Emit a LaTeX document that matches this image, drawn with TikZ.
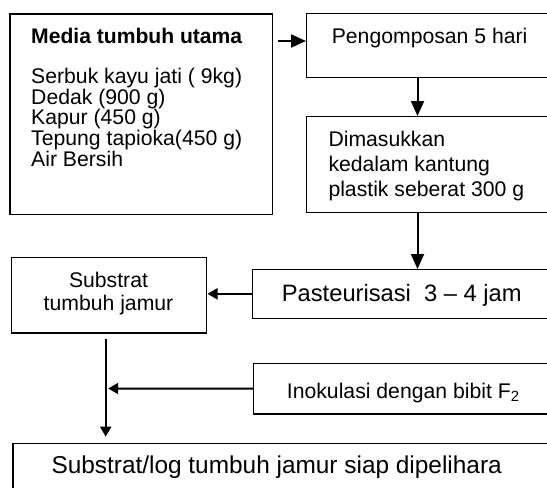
\documentclass[tikz,border=0pt]{standalone}
\usepackage{fontspec}
\setmainfont{Liberation Sans}
\usetikzlibrary{arrows.meta}
\newcommand{\fsz}[1]{\fontsize{#1}{#1}\selectfont}
\newcommand{\stage}[5]{\node[box,anchor=north west,minimum width=#4pt,minimum height=#5pt] (#1) at (#2,#3) {};}

\begin{document}
\begin{tikzpicture}[x=1pt,y=-1pt,
  box/.style={draw,line width=1.2pt,inner sep=0pt},
  txt/.style={inner sep=0pt,anchor=base west,font=\fsz{21.2}},
  flow/.style={line width=2pt,-{Triangle[length=15pt,width=13pt]}},
  feed/.style={line width=2pt,-{Triangle[length=10pt,width=11pt]}}]
\useasboundingbox (0,0) rectangle (547,488);
\clip (0,0) rectangle (547,488);
\stage{media}{9.3}{13.3}{262.4}{200.7}
\stage{kompos}{306}{12.7}{260}{64}
\stage{kantong}{306}{116}{260}{95.7}
\stage{pasteur}{252}{269}{320}{48.5}
\stage{substrat}{11}{256.7}{194.7}{75.6}
\stage{inokul}{253}{362.7}{320}{50.6}
\stage{siap}{12.3}{442.7}{560}{70}
% texts
\node[txt,font=\fsz{21.1}\bfseries] (mediaT) at (31,43.3) {Media tumbuh utama};
\foreach \t [count=\i] in {Serbuk kayu jati ( 9kg),Dedak (900 g),Kapur (450 g),Tepung tapioka(450 g),Air Bersih}
  \node[txt] (bahan\i) at (31,62.5+20.8*\i) {\t};
\node[txt] (komposT) at (331.6,43.3) {Pengomposan 5 hari};
\foreach \t [count=\i] in {Dimasukkan,kedalam kantung,plastik seberat 300 g}
  \node[txt] (kantong\i) at (328.3,121.7+25*\i) {\t};
\node[txt,font=\fsz{23.7}] (pasteurT) at (281.7,301.5) {Pasteurisasi\ \ 3 – 4 jam};
\node[txt,anchor=base] (substrat1) at (108.5,287.3) {Substrat};
\node[txt,anchor=base] (substrat2) at (108.5,310) {tumbuh jamur};
\node[txt] (inokulT) at (286.7,398.3) {Inokulasi dengan bibit F\textsubscript{2}};
\node[txt,font=\fsz{24.4}] (siapT) at (51.3,473.5) {Substrat/log tumbuh jamur siap dipelihara};
% connectors
\coordinate (feedy) at (0,41);
\coordinate (spine) at (417.5,0);
\coordinate (join) at (105.7,388.5);
\draw[flow,shorten <=5pt] (media.east |- feedy) -- (kompos.west |- feedy);
\draw[flow] (kompos.south -| spine) -- (kantong.north -| spine);
\draw[flow] (kantong.south -| spine) -- (pasteur.north -| spine);
\draw[feed,shorten >=0.6pt] (pasteur.west) -- (pasteur.west -| substrat.east);
\draw[feed,shorten <=5pt,shorten >=6pt] (substrat.south -| join) -- (siap.north -| join);
\draw[feed,shorten >=2.5pt] (inokul.west) -- (join);
\end{tikzpicture}
\end{document}
